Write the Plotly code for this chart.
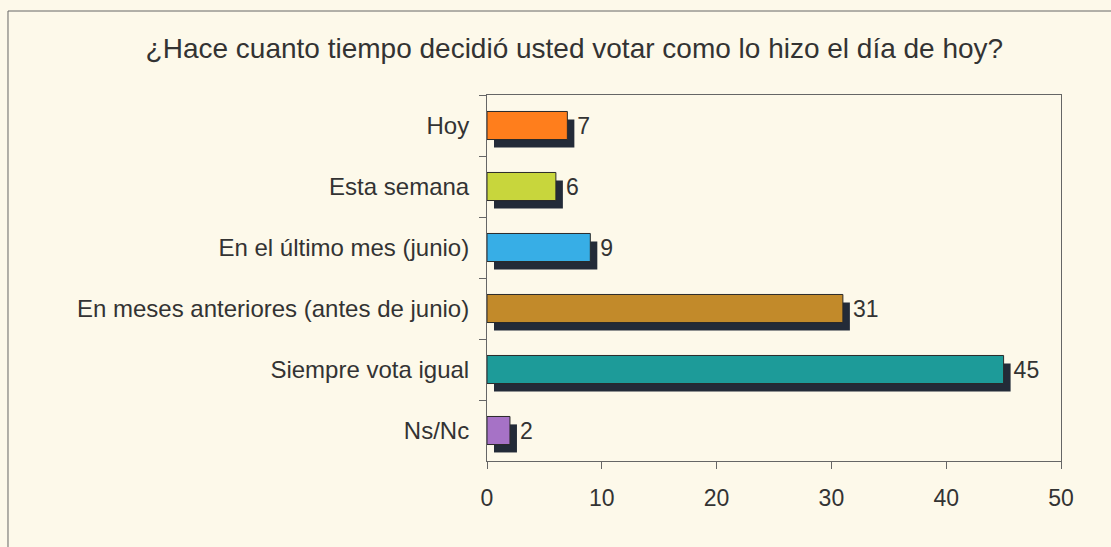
import plotly.graph_objects as go

# datos
categorias = ["Hoy", "Esta semana", "En el último mes (junio)",
              "En meses anteriores (antes de junio)", "Siempre vota igual", "Ns/Nc"]
valores = [7, 6, 9, 31, 45, 2]
colores = ["#FF7E1C", "#C8D63C", "#37AEE6", "#C28A2A", "#1D9B99", "#A672C6"]
titulo = "¿Hace cuanto tiempo decidió usted votar como lo hizo el día de hoy?"

fondo = "#FDF9EA"
texto = "#333333"
fuente = "Liberation Sans, Arial, sans-serif"

ancho = 0.46      # ancho de barra (unidades de categoria)
sombra_x = 0.61   # desplazamiento de la sombra (unidades del eje x)
sombra_y = 0.13   # desplazamiento de la sombra (unidades de categoria)

fig = go.Figure()

# sombra
fig.add_trace(go.Bar(
    y=categorias, x=valores, base=sombra_x, orientation="h",
    width=ancho, offset=-ancho / 2 + sombra_y,
    marker=dict(color="#232B38", line=dict(width=0)),
    hoverinfo="skip", showlegend=False,
))

# barras
fig.add_trace(go.Bar(
    y=categorias, x=valores, orientation="h",
    width=ancho, offset=-ancho / 2,
    marker=dict(color=colores, line=dict(color="#2a2a2a", width=1)),
    showlegend=False,
))

# etiquetas (barra invisible hasta el borde de la sombra)
fig.add_trace(go.Bar(
    y=categorias, x=[v + sombra_x for v in valores], orientation="h",
    width=ancho, offset=-ancho / 2,
    marker=dict(color="rgba(0,0,0,0)", line=dict(width=0)),
    text=[str(v) for v in valores], textposition="outside",
    textfont=dict(family=fuente, size=23, color=texto),
    cliponaxis=False, hoverinfo="skip", showlegend=False,
))

fig.update_layout(
    width=1111, height=547,
    barmode="overlay",
    paper_bgcolor=fondo, plot_bgcolor=fondo,
    margin=dict(l=487, r=50, t=95, b=86),
    font=dict(family=fuente, color=texto),
    title=dict(text=titulo, x=0.517, xanchor="center", y=0.912, yanchor="middle",
               xref="container", yref="container",
               font=dict(family=fuente, size=28, color=texto)),
    xaxis=dict(range=[0, 50], dtick=10, showgrid=False, zeroline=False,
               showline=True, linecolor="#666666", linewidth=1, mirror=True,
               ticks="outside", ticklen=7, tickcolor="#666666",
               ticklabelstandoff=9, tickfont=dict(size=23, color=texto)),
    yaxis=dict(categoryorder="array", categoryarray=categorias, autorange="reversed",
               showgrid=False, zeroline=False,
               showline=True, linecolor="#666666", linewidth=1, mirror=True,
               ticks="outside", ticklen=7, tickcolor="#666666", tickson="boundaries",
               ticklabelstandoff=12, tickfont=dict(size=24, color=texto)),
    shapes=[dict(type="rect", xref="paper", yref="paper",
                 x0=-0.8345, x1=2, y0=-1, y1=1.2295,
                 line=dict(color="#666666", width=1), layer="below")],
)

# sin margen del body para que el grafico quede en (0,0)
fig.write_html("out.html", config={"displayModeBar": False},
               post_script="document.body.style.margin='0';")
